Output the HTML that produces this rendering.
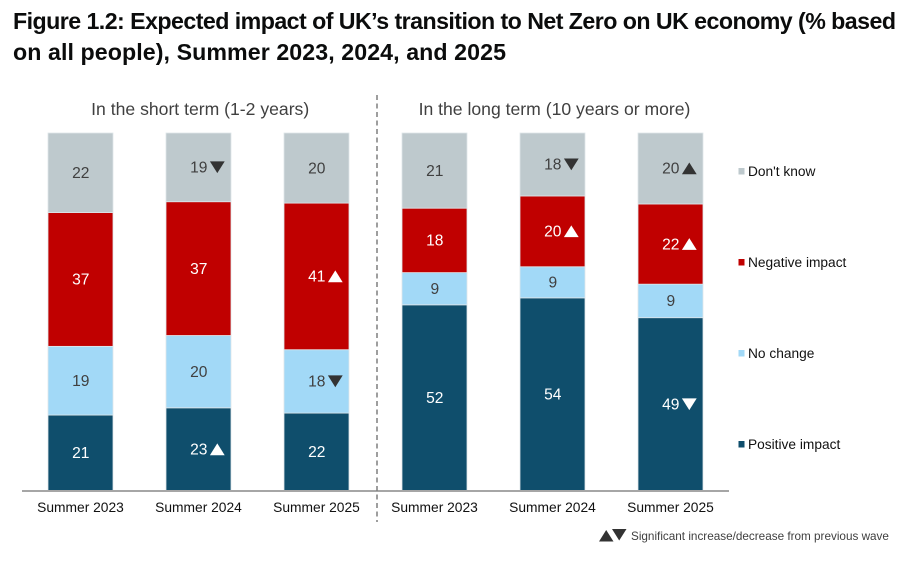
<!DOCTYPE html>
<html lang="en">
<head>
<meta charset="utf-8">
<title>Figure 1.2</title>
<style>
html,body{margin:0;padding:0;background:#fff;width:923px;height:565px;overflow:hidden}
svg{display:block;font-family:"Liberation Sans",Arial,sans-serif}
</style>
</head>
<body>
<svg id="chart" width="923" height="565" viewBox="0 0 923 565" xmlns="http://www.w3.org/2000/svg">
  <g font-weight="700" font-size="23.2" fill="#0b0c0c">
    <text x="13" y="29" textLength="883" lengthAdjust="spacing">Figure 1.2: Expected impact of UK’s transition to Net Zero on UK economy (% based</text>
    <text x="13" y="60" textLength="493" lengthAdjust="spacing">on all people), Summer 2023, 2024, and 2025</text>
  </g>
  <text x="200.2" y="115" font-size="17.6" fill="#404040" text-anchor="middle">In the short term (1-2 years)</text>
  <text x="554.5" y="115" font-size="17.6" fill="#404040" text-anchor="middle">In the long term (10 years or more)</text>
  <g id="bars"></g>
  <line x1="22" y1="491" x2="729" y2="491" stroke="#a6a6a6" stroke-width="2"/>
  <line x1="377" y1="95" x2="377" y2="522" stroke="#7f7f7f" stroke-width="1.5" stroke-dasharray="5 3.5"/>
  <g id="xlabels"></g>
  <g id="legend"></g>
  <g>
    <polygon points="599,541.5 613.5,541.5 606.2,530" fill="#333"/>
    <polygon points="612,529 626.5,529 619.2,540.5" fill="#333"/>
    <text x="631" y="540" font-size="11.73" fill="#404040">Significant increase/decrease from previous wave</text>
  </g>
</svg>
<script>
const categories = ["Summer 2023", "Summer 2024", "Summer 2025", "Summer 2023", "Summer 2024", "Summer 2025"];
const seriesNames = ["Positive impact", "No change", "Negative impact", "Don't know"];
const positiveImpact = [21, 23, 22, 52, 54, 48.6];
const noChange = [19, 20, 17.9, 9, 8.7, 9.4];
const negativeImpact = [37, 37, 41.4, 18, 19.8, 22.49];
const dontKnow = [22, 19, 19.8, 21, 17.6, 19.9];
const positiveMarks = ["", "up", "", "", "", "down"];
const noChangeMarks = ["", "", "down", "", "", ""];
const negativeMarks = ["", "", "up", "", "up", "up"];
const dontKnowMarks = ["", "down", "", "", "down", "up"];

const series = [positiveImpact, noChange, negativeImpact, dontKnow];
const marks = [positiveMarks, noChangeMarks, negativeMarks, dontKnowMarks];
const fills = ["#0f4e6c", "#a2d9f7", "#c00000", "#bec9cd"];
const inks = ["#ffffff", "#404040", "#ffffff", "#404040"];
const markInks = ["#ffffff", "#333333", "#ffffff", "#333333"];
const NS = "http://www.w3.org/2000/svg";
const plotTop = 133, plotBottom = 491, barWidth = 65;

function xCenter(i) { return 80.5 + i * 118; }
function yScale(share) { return plotBottom - share * (plotBottom - plotTop); }
function make(tag, attrs, parent) {
  const el = document.createElementNS(NS, tag);
  for (const k in attrs) el.setAttribute(k, attrs[k]);
  parent.appendChild(el);
  return el;
}

const barsGroup = document.getElementById("bars");
categories.forEach(function (cat, i) {
  const total = series.reduce(function (s, arr) { return s + arr[i]; }, 0);
  let cum = 0;
  const cx = xCenter(i);
  series.forEach(function (arr, s) {
    const v = arr[i];
    const y0 = yScale(cum / total);
    cum += v;
    const y1 = yScale(cum / total);
    const rect = make("rect", {
      x: cx - barWidth / 2, y: y1, width: barWidth, height: y0 - y1,
      fill: fills[s], stroke: "#dfe6ea", "stroke-width": 0.8
    }, barsGroup);
    
    

    const mid = (y0 + y1) / 2;
    const label = make("text", {
      x: cx + 0.3, y: mid + 5.2, "font-size": 15.6, fill: inks[s], "text-anchor": "middle"
    }, barsGroup);
    label.textContent = String(Math.round(v));
    
    

    const dir = marks[s][i];
    if (dir) {
      const tx = cx + 18.8;
      const pts = dir === "up"
        ? [[tx - 7.4, mid + 5.8], [tx + 7.4, mid + 5.8], [tx, mid - 6]]
        : [[tx - 7.4, mid - 6], [tx + 7.4, mid - 6], [tx, mid + 5.8]];
      const tri = make("polygon", {
        points: pts.map(function (p) { return p.join(","); }).join(" "),
        fill: markInks[s]
      }, barsGroup);
      
      
    }
  });
});

const xGroup = document.getElementById("xlabels");
categories.forEach(function (cat, i) {
  const t = make("text", {
    x: xCenter(i), y: 512, "font-size": 13.8, fill: "#111", "text-anchor": "middle"
  }, xGroup);
  t.textContent = cat;
  
  
});

const legendGroup = document.getElementById("legend");
seriesNames.forEach(function (name, s) {
  const y = 444 - s * 91;
  const sw = make("rect", { x: 738.5, y: y - 3, width: 6, height: 6.5, fill: fills[s] }, legendGroup);
  
  
  const t = make("text", { x: 748, y: y + 4.8, "font-size": 13.72, fill: "#111" }, legendGroup);
  t.textContent = name;
  
  
});
</script>
</body>
</html>
